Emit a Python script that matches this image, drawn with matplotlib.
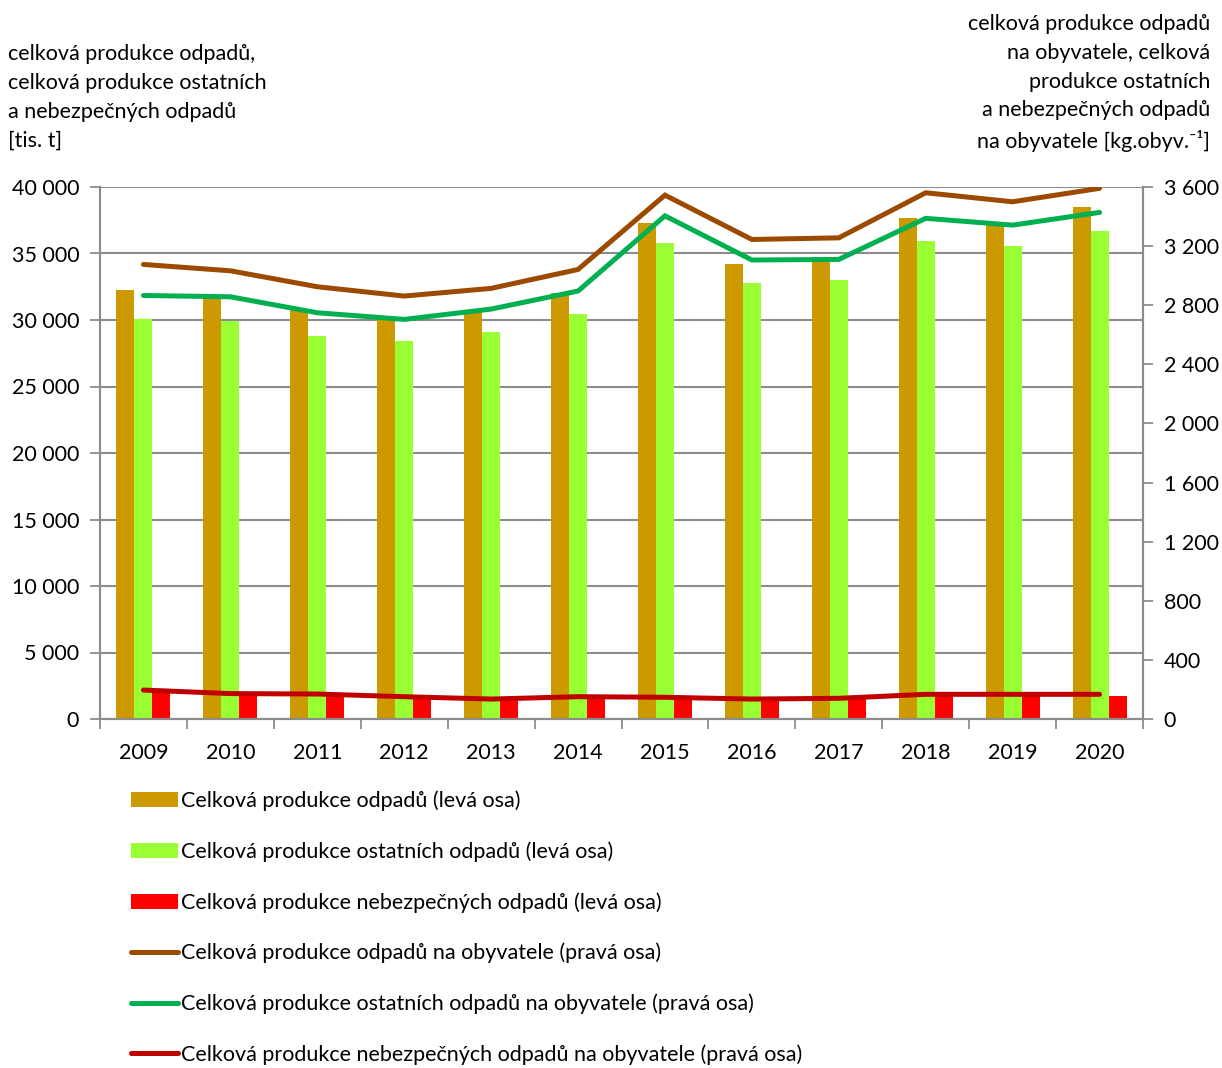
import numpy as np
import matplotlib.pyplot as plt
from matplotlib.ticker import FuncFormatter, FixedLocator

plt.rcParams['font.family'] = ['Lato', 'DejaVu Sans']

# data
years = ['2009', '2010', '2011', '2012', '2013', '2014',
         '2015', '2016', '2017', '2018', '2019', '2020']
total_kt = [32250, 31800, 30800, 30100, 30700, 32000,
            37300, 34200, 34700, 37700, 37200, 38470]
other_kt = [30050, 29950, 28820, 28400, 29120, 30450,
            35800, 32800, 32980, 35960, 35560, 36710]
hazard_kt = [2050, 1780, 1760, 1570, 1400, 1580,
             1530, 1400, 1470, 1750, 1750, 1760]
total_pc = [3076, 3033, 2925, 2862, 2914, 3042,
            3545, 3245, 3256, 3561, 3500, 3591]
other_pc = [2866, 2857, 2749, 2704, 2774, 2896,
            3405, 3106, 3110, 3388, 3342, 3428]
hazard_pc = [196, 172, 169, 151, 135, 151,
             147, 135, 140, 167, 167, 167]

labels = ['Celková produkce odpadů (levá osa)',
          'Celková produkce ostatních odpadů (levá osa)',
          'Celková produkce nebezpečných odpadů (levá osa)',
          'Celková produkce odpadů na obyvatele (pravá osa)',
          'Celková produkce ostatních odpadů na obyvatele (pravá osa)',
          'Celková produkce nebezpečných odpadů na obyvatele (pravá osa)']

bar_colors = ['#CC9900', '#99FF33', '#FF0000']
line_colors = ['#9C4A00', '#00B050', '#C00000']
grid_col = '#8C8C8C'
fs = 15.5

fig = plt.figure(figsize=(12.22, 10.68), dpi=100)
ax = fig.add_axes([100 / 1222, 1 - 719 / 1068, 1043 / 1222, 532 / 1068])
ax2 = ax.twinx()

x = np.arange(len(years))
w = 0.207
handles = []
for i, (vals, col) in enumerate(zip([total_kt, other_kt, hazard_kt], bar_colors)):
    b = ax.bar(x + (i - 1) * w, vals, width=w, color=col, zorder=2, label=labels[i])
    handles.append(b)
for i, (vals, col) in enumerate(zip([total_pc, other_pc, hazard_pc], line_colors)):
    l, = ax2.plot(x, vals, color=col, lw=3.6, solid_capstyle='round',
                  solid_joinstyle='miter', label=labels[3 + i])
    handles.append(l)

ax.set_xlim(-0.5, len(years) - 0.5)
ax.set_ylim(0, 40000)
ax2.set_ylim(0, 3600)
ax.set_yticks(np.arange(0, 40001, 5000))
ax2.set_yticks(np.arange(0, 3601, 400))
fmt = FuncFormatter(lambda v, p: f'{int(v):,}'.replace(',', ' '))
ax.yaxis.set_major_formatter(fmt)
ax2.yaxis.set_major_formatter(fmt)

ax.set_xticks(x)
ax.set_xticklabels(years)
ax.xaxis.set_minor_locator(FixedLocator(np.arange(-0.5, len(years), 1.0)))
ax.tick_params(axis='x', which='major', length=0, pad=17, labelsize=fs)
ax.tick_params(axis='x', which='minor', length=7, width=1.3, color=grid_col)
ax.tick_params(axis='y', length=7, width=1.3, color=grid_col, pad=8, labelsize=fs)
ax2.tick_params(axis='y', length=7, width=1.3, color=grid_col, pad=8, labelsize=fs)

ax.yaxis.grid(True, color=grid_col, lw=1.5, zorder=0)
ax.set_axisbelow(True)
for a in (ax, ax2):
    a.spines['top'].set_visible(False)
    for s in ('left', 'right', 'bottom'):
        a.spines[s].set_color(grid_col)
        a.spines[s].set_linewidth(1.5)

fig.text(8 / 1222, 1 - 44 / 1068,
         'celková produkce odpadů,\ncelková produkce ostatních\n'
         'a nebezpečných odpadů\n[tis. t]',
         ha='left', va='top', fontsize=fs, linespacing=1.55)
fig.text(1210 / 1222, 1 - 14 / 1068,
         'celková produkce odpadů\nna obyvatele, celková\nprodukce ostatních\n'
         'a nebezpečných odpadů\nna obyvatele [kg.obyv.⁻¹]',
         ha='right', va='top', fontsize=fs, linespacing=1.55)

fig.legend(handles=handles, loc='upper left',
           bbox_to_anchor=(122 / 1222, 1 - 782 / 1068),
           frameon=False, fontsize=fs, ncol=1, handlelength=2.2,
           handleheight=0.7, handletextpad=0.15, labelspacing=1.4,
           borderaxespad=0)

fig.savefig('out.png', dpi=100)
